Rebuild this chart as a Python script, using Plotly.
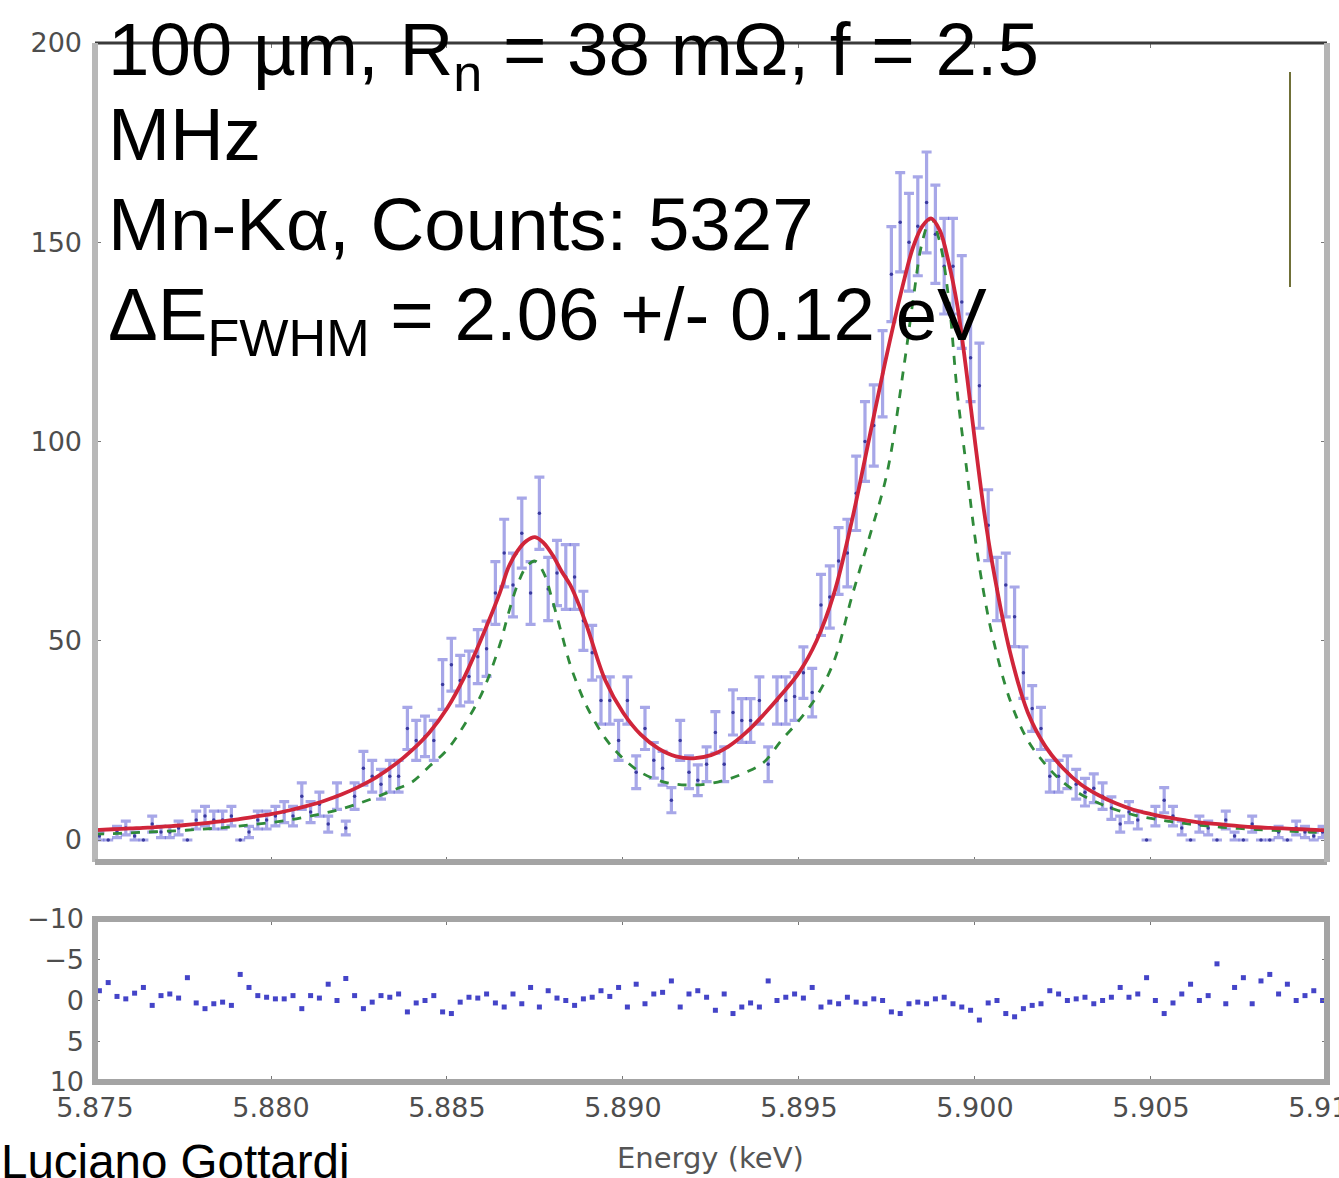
import numpy as np
import plotly.graph_objects as go

# ---------------- data ----------------
# histogram: 140 bins of 0.25 eV between 5.875 and 5.910 keV
bin_start_kev = 5.875
bin_width_kev = 0.00025
counts = [1, 0, 2, 3, 1, 0, 4, 2, 2, 3,
          0, 5, 6, 5, 5, 6, 0, 2, 5, 5,
          6, 7, 6, 11, 7, 9, 4, 11, 3, 11,
          18, 16, 14, 16, 16, 28, 25, 26, 25, 39,
          44, 40, 41, 46, 48, 62, 72, 64, 77, 62,
          82, 63, 67, 66, 66, 55, 47, 35, 35, 25,
          35, 17, 28, 20, 18, 10, 25, 17, 15, 19,
          27, 19, 32, 30, 30, 35, 19, 35, 35, 36,
          42, 37, 59, 61, 70, 72, 87, 100, 104, 117,
          142, 155, 150, 154, 160, 152, 144, 144, 135, 121,
          114, 79, 63, 64, 56, 42, 33, 28, 16, 16,
          17, 14, 12, 13, 11, 8, 4, 7, 5, 0,
          6, 10, 6, 3, 0, 4, 3, 0, 5, 1,
          0, 4, 0, 0, 2, 0, 3, 2, 1, 2]

residuals = [-1.2, -2.2, -0.5, -0.2, -0.9, -1.6, 0.6, -0.6, -0.8, -0.3,
             -2.8, 0.3, 1.0, 0.4, 0.2, 0.6, -3.2, -1.6, -0.6, -0.4,
             -0.2, -0.2, -0.6, 1.0, -0.6, -0.3, -2.0, 0.0, -2.7, -0.6,
             1.0, 0.2, -0.6, -0.4, -0.8, 1.4, 0.3, 0.0, -0.6, 1.4,
             1.6, 0.2, -0.4, -0.3, -0.8, 0.3, 0.8, -0.8, 0.4, -1.6,
             0.8, -1.2, -0.3, 0.0, 0.6, -0.2, -0.4, -1.2, -0.5, -1.6,
             0.8, -2.0, 0.4, -0.8, -1.0, -2.4, 0.8, -0.8, -1.2, -0.4,
             1.2, -0.8, 1.6, 0.8, 0.3, 0.8, -2.4, 0.0, -0.4, -0.8,
             -0.3, -1.6, 0.8, 0.2, 0.4, -0.4, 0.2, 0.4, -0.2, 0.0,
             1.4, 1.6, 0.4, 0.2, 0.4, -0.2, -0.4, 0.4, 0.8, 1.2,
             2.4, 0.3, 0.0, 1.6, 2.0, 1.0, 0.6, 0.4, -1.2, -0.8,
             0.0, -0.2, -0.4, 0.4, 0.0, -0.4, -1.6, -0.4, -0.8, -2.8,
             0.0, 1.6, 0.3, -0.8, -2.0, 0.0, -0.6, -4.5, 0.4, -1.6,
             -2.8, 0.4, -2.4, -3.2, -0.8, -2.0, 0.0, -0.6, -1.2, 0.0]

# fitted model (red) and intrinsic line shape (green dashed)
fit_energy = [5.8750, 5.8755, 5.8760, 5.8765, 5.8770, 5.8775, 5.8780, 5.8785, 5.8790, 5.8795,
              5.8800, 5.8805, 5.8810, 5.8815, 5.8820, 5.8825, 5.8830, 5.8835, 5.8840, 5.8845,
              5.8850, 5.8855, 5.8860, 5.8865, 5.88675, 5.8870, 5.88725, 5.8875, 5.88775, 5.8880,
              5.88825, 5.8885, 5.88875, 5.8890, 5.8895, 5.8900, 5.8905, 5.8910, 5.8915, 5.8920,
              5.8925, 5.8930, 5.8935, 5.8940, 5.8945, 5.8950, 5.8955, 5.8960, 5.8965, 5.8970,
              5.8975, 5.8980, 5.89825, 5.8985, 5.89875, 5.8990, 5.89925, 5.8995, 5.89975, 5.9000,
              5.90025, 5.9005, 5.9010, 5.9015, 5.9020, 5.9025, 5.9030, 5.9035, 5.9040, 5.9045,
              5.9050, 5.9055, 5.9060, 5.9065, 5.9070, 5.9075, 5.9080, 5.9085, 5.9090, 5.9095,
              5.9100]
fit_counts = [2.5, 2.7, 2.9, 3.1, 3.4, 3.7, 4.1, 4.6, 5.1, 5.8,
              6.5, 7.4, 8.5, 9.8, 11.4, 13.4, 15.8, 18.8, 22.5, 27,
              33, 41, 51, 62, 68.5, 72.5, 75, 76, 74.5, 71.5,
              67.5, 64, 59, 53, 40, 32, 26.5, 23, 21, 20.5,
              21.3, 23.5, 27, 31.5, 36.5, 42, 50, 62, 80, 101,
              122, 141, 149, 154, 156, 153, 145, 134, 118, 100,
              83, 69, 47, 32, 23.5, 18, 14, 11.3, 9.2, 7.6,
              6.5, 5.6, 4.9, 4.3, 3.9, 3.5, 3.2, 3.0, 2.8, 2.6,
              2.4]
lineshape_counts = [1.5, 1.6, 1.8, 2.0, 2.2, 2.4, 2.7, 3.0, 3.4, 3.9,
                    4.4, 5.0, 5.8, 6.7, 7.8, 9.2, 10.8, 12.6, 14.5, 18.5,
                    22.6, 29, 37, 49, 57, 64, 68.5, 70, 67, 60,
                    52, 44, 38, 33, 25.5, 20.5, 17, 15, 14, 13.8,
                    14.2, 15.3, 17, 19.5, 25, 30, 36, 45, 61, 76,
                    92, 120, 136, 150, 156, 150, 136, 112, 94, 76,
                    62, 51, 35, 25, 19, 14.5, 11.5, 9.3, 7.6, 6.3,
                    5.4, 4.7, 4.1, 3.6, 3.2, 2.9, 2.6, 2.4, 2.2, 2.0,
                    1.8]

x_tick_vals = [5.875, 5.880, 5.885, 5.890, 5.895, 5.900, 5.905, 5.910]
x_tick_text = ["5.875", "5.880", "5.885", "5.890", "5.895", "5.900", "5.905", "5.910"]
y_tick_vals = [0, 50, 100, 150, 200]
res_tick_vals = [-10, -5, 0, 5, 10]
res_tick_text = ["\u221210", "\u22125", "0", "5", "10"]

# ---------------- derived ----------------
bin_centers = bin_start_kev + bin_width_kev * (np.arange(len(counts)) + 0.5)
errors = np.sqrt(np.array(counts, dtype=float))

W, H = 1339, 1178
ML, MR, MT, MB = 95, 12, 43, 96
PW, PH = W - ML - MR, H - MT - MB
X_RANGE = [5.875, 5.9100005]


def px(xp):
    return (xp - ML) / PW


def py(yp):
    return (H - MB - yp) / PH


main_bottom = py(862)
res_top = py(919)

fig = go.Figure()

fig.add_trace(go.Scatter(
    x=bin_centers, y=counts, mode="markers",
    marker=dict(size=3.5, color="rgba(30,30,140,0.8)"),
    error_y=dict(type="data", array=errors, visible=True, thickness=3.2, width=5,
                 color="rgba(80,80,210,0.5)"),
    xaxis="x", yaxis="y", showlegend=False, hoverinfo="skip"))

fig.add_trace(go.Scatter(
    x=fit_energy, y=lineshape_counts, mode="lines", line_shape="spline",
    line=dict(color="#2f8a3a", width=2.8, dash="9px,9px"),
    xaxis="x", yaxis="y", showlegend=False))

fig.add_trace(go.Scatter(
    x=fit_energy, y=fit_counts, mode="lines", line_shape="spline",
    line=dict(color="#d0253a", width=3.8),
    xaxis="x", yaxis="y", showlegend=False))

fig.add_trace(go.Scatter(
    x=bin_centers, y=residuals, mode="markers",
    marker=dict(size=5, symbol="square", color="rgba(35,35,190,0.85)"),
    xaxis="x2", yaxis="y2", showlegend=False))

tickfont = dict(family="DejaVu Sans", size=27, color="#4d4d4d")

fig.update_layout(
    width=W, height=H,
    margin=dict(l=ML, r=MR, t=MT, b=MB, pad=0, autoexpand=False),
    paper_bgcolor="white", plot_bgcolor="white",
    showlegend=False,
    xaxis=dict(domain=[0, 1], anchor="y", range=X_RANGE, tickvals=x_tick_vals,
               showticklabels=False, ticks="inside", ticklen=5, tickcolor="#777",
               mirror="ticks", showgrid=False, zeroline=False, showline=False,
               automargin=False),
    yaxis=dict(domain=[main_bottom, 1], anchor="x", range=[-5.52, 200], tickvals=y_tick_vals,
               ticks="inside", ticklen=6, tickcolor="#777", mirror="ticks",
               tickfont=tickfont, ticklabelstandoff=12, automargin=False,
               showgrid=False, zeroline=False, showline=False),
    xaxis2=dict(domain=[0, 1], anchor="y2", range=X_RANGE, tickvals=x_tick_vals,
                ticktext=x_tick_text, ticks="inside", ticklen=6, tickcolor="#777",
                mirror="ticks", tickfont=tickfont, ticklabelstandoff=7,
                ticklabeloverflow="allow", automargin=False,
                showgrid=False, zeroline=False, showline=False),
    yaxis2=dict(domain=[0, res_top], anchor="x2", range=[10, -10], tickvals=res_tick_vals,
                ticktext=res_tick_text, ticks="inside", ticklen=5, tickcolor="#777",
                mirror="ticks", tickfont=tickfont, ticklabelstandoff=10, automargin=False,
                showgrid=False, zeroline=False, showline=False),
)

shapes = [
    dict(type="line", xref="paper", yref="paper", x0=0, x1=1, y0=1, y1=1,
         line=dict(color="#3a3a3a", width=3), layer="above"),
    dict(type="line", xref="paper", yref="paper", x0=0, x1=0, y0=main_bottom, y1=1,
         line=dict(color="#b8b8b8", width=6), layer="above"),
    dict(type="line", xref="paper", yref="paper", x0=0, x1=1, y0=main_bottom, y1=main_bottom,
         line=dict(color="#a4a4a4", width=6), layer="above"),
    dict(type="line", xref="paper", yref="paper", x0=1, x1=1, y0=main_bottom, y1=1,
         line=dict(color="#b4b4b4", width=6), layer="above"),
    dict(type="rect", xref="paper", yref="paper", x0=0, x1=1, y0=0, y1=res_top,
         line=dict(color="#a4a4a4", width=6), layer="above"),
    dict(type="line", xref="paper", yref="paper", x0=px(1290), x1=px(1290), y0=py(287), y1=py(72),
         line=dict(color="#707038", width=2), layer="above"),
]
fig.update_layout(shapes=shapes)

big = dict(family="Liberation Sans, Arial", size=74.5, color="black")
lines = [
    ("100 µm, R<sub>n</sub> = 38 mΩ, f = 2.5", 55),
    ("MHz", 134),
    ("Mn-Kα, Counts: 5327", 224),
    ("ΔE<sub>FWHM</sub> = 2.06 +/- 0.12 eV", 320),
]
annotations = []
for txt, yp in lines:
    annotations.append(dict(text=txt, xref="paper", yref="paper", x=px(106), y=py(yp),
                            xanchor="left", yanchor="middle", showarrow=False, font=big))
annotations.append(dict(text="Energy (keV)", xref="paper", yref="paper", x=px(710), y=py(1158),
                        xanchor="center", yanchor="middle", showarrow=False,
                        font=dict(family="DejaVu Sans", size=29, color="#555555")))
annotations.append(dict(text="Luciano Gottardi", xref="paper", yref="paper", x=px(-1), y=py(1161),
                        xanchor="left", yanchor="middle", showarrow=False,
                        font=dict(family="Liberation Sans, Arial", size=47.5, color="black")))
fig.update_layout(annotations=annotations)

fig.write_html("out.html")
